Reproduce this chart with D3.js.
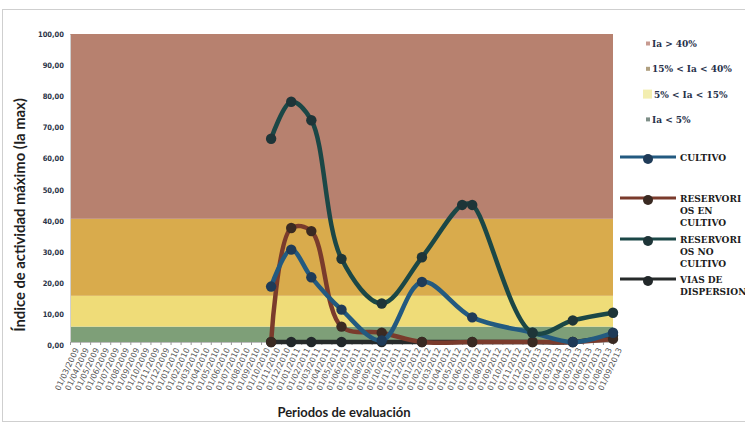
<!DOCTYPE html>
<html><head><meta charset="utf-8">
<script src="https://cdn.jsdelivr.net/npm/d3@7"></script>
<style>body{margin:0;background:#fff;overflow:hidden}</style></head>
<body>
<script>
// ---- DATA ----
const categories = [
 "01/03/2009","01/04/2009","01/05/2009","01/06/2009","01/07/2009","01/08/2009","01/09/2009","01/10/2009","01/11/2009","01/12/2009",
 "01/01/2010","01/02/2010","01/03/2010","01/04/2010","01/05/2010","01/06/2010","01/07/2010","01/08/2010","01/09/2010","01/10/2010","01/11/2010","01/12/2010",
 "01/01/2011","01/02/2011","01/03/2011","01/04/2011","01/05/2011","01/06/2011","01/07/2011","01/08/2011","01/09/2011","01/10/2011","01/11/2011","01/12/2011",
 "01/01/2012","01/02/2012","01/03/2012","01/04/2012","01/05/2012","01/06/2012","01/07/2012","01/08/2012","01/09/2012","01/10/2012","01/11/2012","01/12/2012",
 "01/01/2013","01/02/2013","01/03/2013","01/04/2013","01/05/2013","01/06/2013","01/07/2013","01/08/2013","01/09/2013"
];
const evalPeriods = ["01/11/2010","01/01/2011","01/03/2011","01/06/2011","01/10/2011","01/02/2012","01/06/2012","01/07/2012","01/01/2013","01/05/2013","01/09/2013"];
const cultivo          = [18, 30, 21, 10.5, 0.5, 19.5, null, 8, 3, 0, 3];
const resEnCultivo     = [0, 37, 36, 5, 3, 0, null, 0, 0, 0, 1];
const resNoCultivo     = [66, 78, 72, 27, 12.5, 27.5, 44.5, 44.5, 3, 7, 9.5];
const viasDispersion   = [0, 0, 0, 0, 0, 0, null, 0, 0, 0, 2];
const yTicks = [0,10,20,30,40,50,60,70,80,90,100];
const bands = [
  {label:"Ia < 5%", from:0, to:5},
  {label:"5% < Ia < 15%", from:5, to:15},
  {label:"15% < Ia < 40%", from:15, to:40},
  {label:"Ia > 40%", from:40, to:100}
];
const seriesNames = ["CULTIVO","RESERVORIOS EN CULTIVO","RESERVORIOS NO CULTIVO","VIAS DE DISPERSION"];

// ---- STYLE ----
const bandColors = {"Ia < 5%":"#7e9f78","5% < Ia < 15%":"#efdc78","15% < Ia < 40%":"#d9ab4c","Ia > 40%":"#b7816f"};
const bandMarker = {"Ia < 5%":"#7e8f88","5% < Ia < 15%":"#f3eeb0","15% < Ia < 40%":"#b0a080","Ia > 40%":"#c79a90"};
const seriesColors = ["#235a80","#7a3b2c","#1b4746","#262a2a"];
const markerColors = ["#1f3b58","#3a2a22","#1e3538","#22282a"];
const W=745,H=428;
const m={l:70,r:613,t:34,b:342};

const svg=d3.select("body").append("svg").attr("width",W).attr("height",H);
svg.append("rect").attr("x",2.5).attr("y",9.5).attr("width",800).attr("height",412).attr("fill","#fff").attr("stroke","#cfcfcf");

const x=d3.scalePoint().domain(categories).range([m.l,m.r]).padding(0);
const y=d3.scaleLinear().domain([0,100]).range([m.b,m.t]);

// bands
svg.append("g").selectAll("rect").data(bands).join("rect")
  .attr("x",m.l).attr("width",m.r-m.l)
  .attr("y",d=>y(d.to)).attr("height",d=>y(d.from)-y(d.to))
  .attr("fill",d=>bandColors[d.label]);

// y axis
const yAxis=svg.append("g").attr("transform",`translate(${m.l},0)`)
  .call(d3.axisLeft(y).tickValues(yTicks).tickSize(0).tickPadding(6).tickFormat(d=>d3.format(".2f")(d).replace(".",",")));
yAxis.select(".domain").attr("stroke","#d0d0d0");
yAxis.selectAll("text").attr("font-family","DejaVu Sans Condensed, DejaVu Sans").attr("font-weight","bold").attr("font-size",7.5).attr("fill","#2b3448")
  .attr("dy",(d)=>(0.32+ (100-d)/100*0.45)+"em");

// x axis
const xAxis=svg.append("g").attr("transform",`translate(0,${m.b})`)
  .call(d3.axisBottom(x).tickSize(3).tickPadding(2));
xAxis.select(".domain").attr("stroke","#bdbdbd");
xAxis.selectAll(".tick line").attr("stroke","#9a9a9a");
xAxis.selectAll("text").attr("font-family","DejaVu Sans").attr("font-size",8).attr("fill","#555")
  .attr("text-anchor","end").attr("dx","-3").attr("dy","6")
  .attr("transform","rotate(-65)");

// series
const allSeries=[cultivo,resEnCultivo,resNoCultivo,viasDispersion];
const drawOrder=[3,1,0,2];
const line=d3.line().x(d=>x(d.p)).y(d=>y(d.v)).curve(d3.curveCatmullRom.alpha(0.5));
drawOrder.forEach(i=>{
  const pts=evalPeriods.map((p,k)=>({p,v:allSeries[i][k]})).filter(d=>d.v!=null);
  svg.append("path").datum(pts).attr("d",line).attr("fill","none")
    .attr("stroke",seriesColors[i]).attr("stroke-width",4.5).attr("stroke-linejoin","round");
  svg.append("g").selectAll("circle").data(pts).join("circle")
    .attr("cx",d=>x(d.p)).attr("cy",d=>y(d.v)).attr("r",5.2).attr("fill",markerColors[i]);
});

// axis titles
svg.append("text").attr("transform",`translate(25,215) rotate(-90)`).attr("text-anchor","middle")
  .attr("font-family","Lato, Open Sans").attr("font-weight","bold").attr("font-size",14.8).attr("fill","#1e1e1e")
  .text("Índice de actividad máximo (Ia max)");
svg.append("text").attr("x",344).attr("y",417).attr("text-anchor","middle")
  .attr("font-family","Lato, Open Sans").attr("font-weight","bold").attr("font-size",13).attr("fill","#1e1e1e")
  .text("Periodos de evaluación");

// band legend
const bandLegend=[...bands].reverse();
const lg=svg.append("g").attr("font-family","DejaVu Serif Condensed, DejaVu Serif").attr("font-weight","bold").attr("font-size",10).attr("fill","#27314a");
bandLegend.forEach((b,i)=>{
  const yy=47+i*25.3;
  const big = b.label==="5% < Ia < 15%";
  lg.append("rect").attr("x",big?643:646).attr("y",yy-(big?8:5.5)).attr("width",big?9:4).attr("height",big?9:4).attr("fill",bandMarker[b.label]);
  lg.append("text").attr("x",big?654:652).attr("y",yy).text(b.label);
});

// series legend
const legendRows=[["CULTIVO"],["RESERVORI","OS EN","CULTIVO"],["RESERVORI","OS NO","CULTIVO"],["VIAS DE","DISPERSION"]];
const legY=[157,198,239,279];
const sl=svg.append("g").attr("font-family","DejaVu Serif Condensed, DejaVu Serif").attr("font-weight","bold").attr("font-size",10).attr("fill","#1c1c1c");
seriesNames.forEach((s,i)=>{
  sl.append("line").attr("x1",620).attr("x2",676).attr("y1",legY[i]).attr("y2",legY[i]).attr("stroke",seriesColors[i]).attr("stroke-width",3);
  sl.append("circle").attr("cx",648).attr("cy",legY[i]+2).attr("r",5).attr("fill",markerColors[i]);
  legendRows[i].forEach((t,k)=>sl.append("text").attr("x",680).attr("y",legY[i]+4+k*12).text(t));
});
</script>
</body></html>
